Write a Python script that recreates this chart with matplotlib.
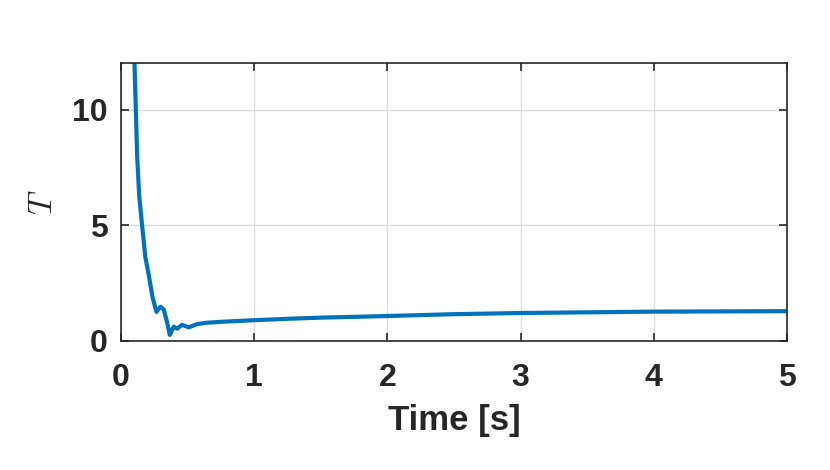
import matplotlib
matplotlib.use("Agg")
import matplotlib.pyplot as plt

# values
time_s = [0.10, 0.12, 0.135, 0.157, 0.182, 0.207, 0.235, 0.265, 0.295, 0.32,
          0.345, 0.365, 0.395, 0.42, 0.457, 0.507, 0.57, 0.645, 0.75, 1.0,
          1.25, 1.5, 2.0, 2.5, 3.0, 3.5, 4.0, 4.5, 5.0]
T_vals = [12.0, 8.0, 6.3, 5.0, 3.6, 2.85, 1.9, 1.25, 1.47, 1.35,
          0.8, 0.25, 0.61, 0.52, 0.69, 0.58, 0.72, 0.78, 0.82, 0.89,
          0.95, 1.0, 1.07, 1.15, 1.2, 1.23, 1.26, 1.27, 1.28]

x_ticks = [0, 1, 2, 3, 4, 5]
y_ticks = [0, 5, 10]

plt.rcParams['font.family'] = ['Liberation Sans', 'DejaVu Sans']
plt.rcParams['mathtext.fontset'] = 'cm'

fig = plt.figure(figsize=(8.3, 4.7), dpi=100)
ax = fig.add_axes([0.146, 0.275, 0.802, 0.59])

ax.plot(time_s, T_vals, color='#0072BD', linewidth=3.0)

ax.set_xlim(0, 5)
ax.set_ylim(0, 12)
ax.set_xticks(x_ticks)
ax.set_yticks(y_ticks)
ax.grid(True, color='#dedede', linewidth=1.0)
ax.set_axisbelow(True)

ax.tick_params(direction='in', top=True, right=True, length=6, width=1.2,
               labelsize=23, colors='#262626')
ax.tick_params(axis='x', pad=16)
ax.tick_params(axis='y', pad=10)
for lbl in ax.get_xticklabels() + ax.get_yticklabels():
    lbl.set_fontweight('bold')
for sp in ax.spines.values():
    sp.set_color('#262626')
    sp.set_linewidth(1.2)

ax.set_xlabel('Time [s]', fontsize=25, fontweight='bold', color='#262626', labelpad=8)
ax.set_ylabel('$T$', fontsize=24, color='#262626', labelpad=9)

fig.savefig('out.png', dpi=100)
